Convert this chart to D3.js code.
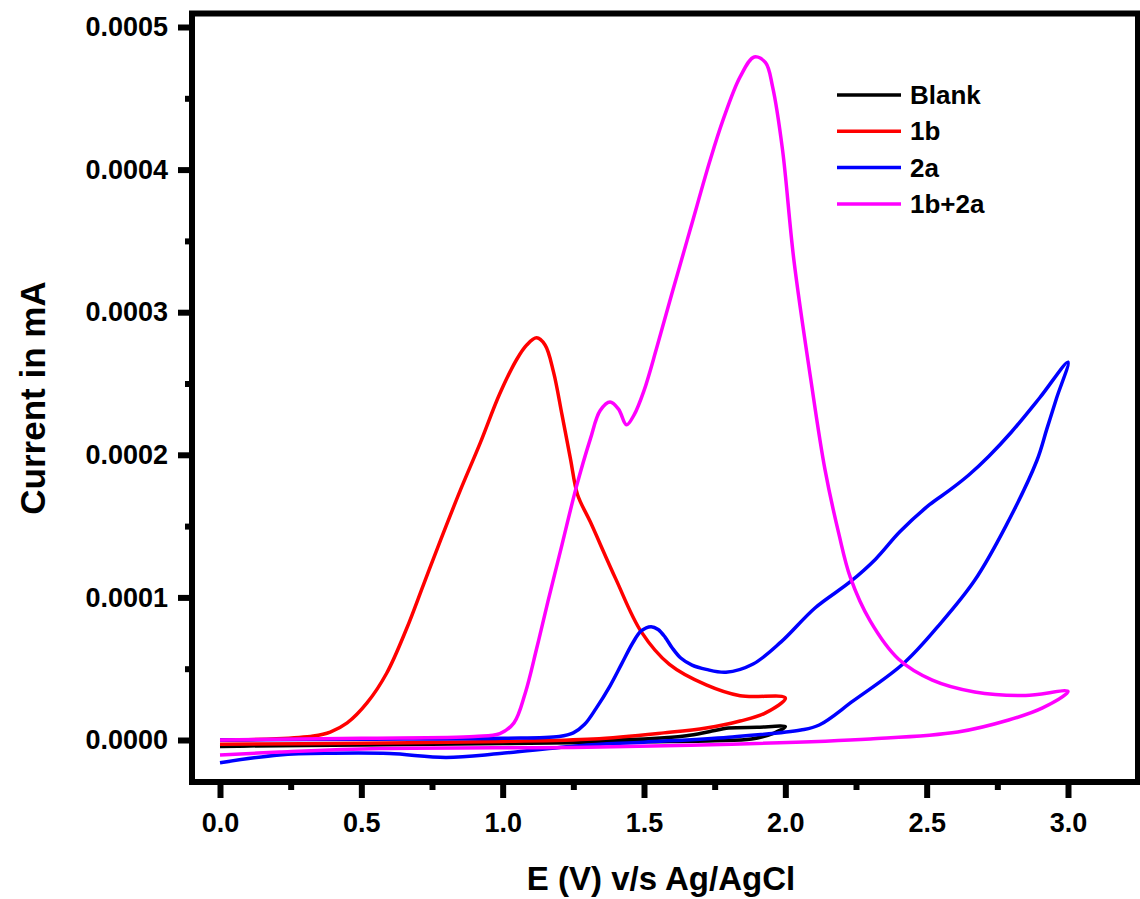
<!DOCTYPE html>
<html>
  <head>
    <title>Cyclic voltammetry</title>
    <script src="https://d3js.org/d3.v7.min.js" charset="utf-8"></script>
    <style type="text/css">
      body { margin: 0; background: #fff; }
      text { font-family: "Liberation Sans", Arial, sans-serif; font-weight: bold; fill: #000; }
    </style>
  </head>

  <body>
    <script type="text/javascript">

    // Data (E in V, current in mA), each loop = forward then reverse sweep
    var blankE = [0, 0.5, 1.0, 1.5, 1.65, 1.73, 1.8, 1.9, 2.0, 1.96, 1.88, 1.75, 1.5, 1.0, 0.5, 0];
    var blankI = [-0.0000045, -0.000003, -0.0000015, 0.0000007, 0.000003, 0.0000058, 0.0000084, 0.0000089, 0.0000093,
                  0.0000049, 0.0000007, -0.0000005, -0.0000012, -0.0000025, -0.0000035, -0.0000045];

    var redE = [0, 0.2, 0.33, 0.39, 0.45, 0.52, 0.59, 0.66, 0.72, 0.78, 0.85, 0.92, 0.99, 1.05, 1.085, 1.12, 1.15, 1.18,
                1.21, 1.24, 1.265, 1.31, 1.40, 1.49, 1.59, 1.72, 1.84, 2.0,
                1.93, 1.84, 1.72, 1.57, 1.32, 1.0, 0.5, 0];
    var redI = [0, 0.0000008, 0.0000028, 0.0000056, 0.000012, 0.000026, 0.000047, 0.000078, 0.000109, 0.00014, 0.000175,
                0.000208, 0.000243, 0.000267, 0.000277, 0.000282, 0.000277, 0.000258, 0.000228, 0.000197, 0.000172,
                0.000153, 0.000113, 0.000076, 0.000053, 0.0000386, 0.000031, 0.0000295,
                0.000019, 0.0000133, 0.0000084, 0.000005, 0.0000007, -0.000001, -0.0000022, -0.000003];

    var blueE = [0, 0.5, 1.0, 1.2, 1.25, 1.29, 1.33, 1.38, 1.42, 1.46, 1.49, 1.525, 1.55, 1.575, 1.60, 1.63, 1.67, 1.72,
                 1.79, 1.886, 1.985, 2.105, 2.23, 2.32, 2.405, 2.51, 2.58, 2.65, 2.72, 2.80, 2.90, 3.0,
                 2.96, 2.925, 2.89, 2.78, 2.67, 2.55, 2.42, 2.24, 2.12, 2.055, 1.8, 1.5, 1.27, 0.99, 0.80, 0.6, 0.4, 0.21, 0];
    var blueI = [0, 0.0000005, 0.0000012, 0.0000025, 0.000005, 0.000011, 0.000022, 0.000038, 0.000053, 0.000068,
                 0.0000765, 0.0000795, 0.0000775, 0.000072, 0.0000645, 0.0000575, 0.0000525, 0.0000495, 0.0000475,
                 0.0000533, 0.0000688, 0.0000926, 0.000111, 0.000127, 0.000146, 0.000165, 0.000175, 0.000186,
                 0.000199, 0.000216, 0.00024, 0.000265,
                 0.00024, 0.000218, 0.000196, 0.00015, 0.000112, 0.000082, 0.000054, 0.0000274, 0.0000105, 0.000007,
                 0.000002, -0.0000015, -0.000004, -0.0000095, -0.0000122, -0.0000095, -0.0000093, -0.0000105, -0.000016];

    var mixE = [0, 0.5, 0.9, 0.99, 1.04, 1.08, 1.12, 1.16, 1.21, 1.26, 1.31, 1.345, 1.38, 1.41, 1.438, 1.465, 1.50,
                1.545, 1.60, 1.665, 1.733, 1.78, 1.84, 1.89, 1.93, 1.955, 1.99, 2.03, 2.09, 2.14, 2.19, 2.23, 2.30,
                2.40, 2.52, 2.67, 2.85, 3.0,
                2.91, 2.79, 2.61, 2.30, 1.81, 1.3, 0.57, 0.21, 0];
    var mixI = [0, 0.0000012, 0.0000025, 0.0000045, 0.000012, 0.000033, 0.000064, 0.000097, 0.000137, 0.000177,
                0.000211, 0.000231, 0.000237, 0.000232, 0.000221, 0.000228, 0.000245, 0.000275, 0.000314, 0.000359,
                0.000406, 0.000435, 0.000465, 0.000479, 0.000475, 0.000458, 0.000414, 0.000337, 0.000253, 0.00019,
                0.000144, 0.000114, 0.0000835, 0.0000568, 0.000042, 0.0000337, 0.0000312, 0.000034,
                0.0000225, 0.000014, 0.0000056, 0.0000007, -0.000003, -0.000005, -0.000006, -0.0000085, -0.0000105];

    var seriesNames = ["Blank", "1b", "2a", "1b+2a"];
    var seriesColors = ["#000000", "#ff0000", "#0000ff", "#ff00ff"];
    var seriesE = [blankE, redE, blueE, mixE];
    var seriesI = [blankI, redI, blueI, mixI];

    var xTicks = [0, 0.5, 1.0, 1.5, 2.0, 2.5, 3.0];
    var yTicks = [0, 0.0001, 0.0002, 0.0003, 0.0004, 0.0005];

    // Setup size
    var width = 1140;
    var height = 899;
    var frame = {left: 192, right: 1138, top: 13.5, bottom: 782};

    var svg = d3.select("body")
        .append("svg")
        .attr("width", width)
        .attr("height", height);

    var x = d3.scaleLinear().domain([0, 3]).range([220, 1068]);
    var y = d3.scaleLinear().domain([0, 0.0005]).range([740, 27]);

    // minor ticks halfway between the major ones
    var xMinor = d3.range(0.25, 3.0, 0.5);
    var yMinor = d3.range(0.00005, 0.0005, 0.0001);

    svg.append("g")
        .attr("transform", "translate(0," + frame.bottom + ")")
        .call(d3.axisBottom(x).tickValues(xMinor).tickSize(8).tickFormat(""));
    svg.append("g")
        .attr("transform", "translate(0," + frame.bottom + ")")
        .call(d3.axisBottom(x).tickValues(xTicks).tickSize(16).tickPadding(15).tickFormat(d3.format(".1f")));

    svg.append("g")
        .attr("transform", "translate(" + frame.left + ",0)")
        .call(d3.axisLeft(y).tickValues(yMinor).tickSize(7).tickFormat(""));
    svg.append("g")
        .attr("transform", "translate(" + frame.left + ",0)")
        .call(d3.axisLeft(y).tickValues(yTicks).tickSize(14).tickPadding(10).tickFormat(d3.format(".4f")));

    svg.selectAll(".domain").remove();
    svg.selectAll(".tick line").attr("stroke", "#000").attr("stroke-width", 6);
    svg.selectAll(".tick text")
        .style("font-family", "'Liberation Sans', Arial, sans-serif")
        .style("font-weight", "bold")
        .style("font-size", "27px")
        .attr("fill", "#000");

    // the box round the plot
    svg.append("rect")
        .attr("x", frame.left)
        .attr("y", frame.top)
        .attr("width", frame.right - frame.left)
        .attr("height", frame.bottom - frame.top)
        .style("fill", "none")
        .style("stroke", "#000")
        .style("stroke-width", 6);

    // Draw the curves
    var line = d3.line()
        .x(function(d) { return x(d[0]); })
        .y(function(d) { return y(d[1]); })
        .curve(d3.curveCatmullRom.alpha(0.5));

    seriesNames.forEach(function(name, i) {
        var pts = seriesE[i].map(function(e, j) { return [e, seriesI[i][j]]; });
        svg.append("path")
            .datum(pts)
            .attr("d", line)
            .style("fill", "none")
            .style("stroke", seriesColors[i])
            .style("stroke-width", 3.5)
            .style("stroke-linejoin", "round");
    });

    // Legend
    var legend = svg.append("g").attr("transform", "translate(837,95)");
    seriesNames.forEach(function(name, i) {
        var row = legend.append("g").attr("transform", "translate(0," + (i * 36.3) + ")");
        row.append("line")
            .attr("x1", 0).attr("x2", 64)
            .attr("y1", 0).attr("y2", 0)
            .style("stroke", seriesColors[i])
            .style("stroke-width", 3.5);
        row.append("text")
            .attr("x", 73)
            .attr("y", 9)
            .style("font-size", "26px")
            .text(name);
    });

    // Axis titles
    svg.append("text")
        .attr("x", 661)
        .attr("y", 890)
        .attr("text-anchor", "middle")
        .style("font-size", "33px")
        .text("E (V) v/s Ag/AgCl");

    svg.append("text")
        .attr("transform", "translate(45,398) rotate(-90)")
        .attr("text-anchor", "middle")
        .style("font-size", "35px")
        .text("Current in mA");

    </script>
  </body>

</html>
